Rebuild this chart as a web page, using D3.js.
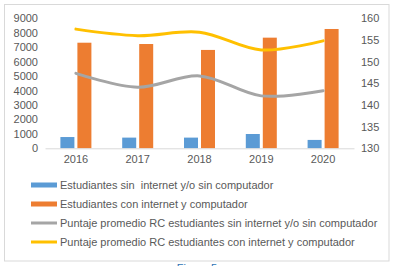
<!DOCTYPE html>
<html><head><meta charset="utf-8">
<script src="https://cdn.jsdelivr.net/npm/d3@7"></script>
<style>body{margin:0;background:#fff;}svg{display:block;}text{white-space:pre;}</style>
</head><body>
<svg id="c" width="396" height="266"></svg>
<script>
const years = ["2016","2017","2018","2019","2020"];
const sinInternet = [780, 740, 740, 990, 580];
const conInternet = [7310, 7220, 6810, 7660, 8260];
const puntajeSin = [147.3, 144.1, 146.7, 142.1, 143.3];
const puntajeCon = [157.5, 156.0, 156.8, 152.7, 154.8];
const leftTicks = [0,1000,2000,3000,4000,5000,6000,7000,8000,9000];
const rightTicks = [130,135,140,145,150,155,160];
const legendLabels = [
  "Estudiantes sin  internet y/o sin computador",
  "Estudiantes con internet y computador",
  "Puntaje promedio RC estudiantes sin internet y/o sin computador",
  "Puntaje promedio RC estudiantes con internet y computador"
];
const colors = ["#5B9BD5","#ED7D31","#A5A5A5","#FFC000"];

const svg = d3.select("#c");
const font = "'Liberation Sans', Arial, sans-serif";
svg.append("rect").attr("x",4.5).attr("y",4.5).attr("width",384.5).attr("height",256.5)
  .attr("fill","#fff").attr("stroke","#d9d9d9");

const x = d3.scaleBand().domain(years).range([45,354]);
const yL = d3.scaleLinear().domain([0,9000]).range([148.3,18.3]);
const yR = d3.scaleLinear().domain([130,160]).range([148.3,18.3]);

const gl = svg.append("g").attr("transform","translate(38,0)")
  .call(d3.axisLeft(yL).tickValues(leftTicks).tickFormat(d3.format("d")).tickSize(0).tickPadding(0));
gl.select(".domain").remove();
gl.selectAll("text").attr("font-family",font).attr("font-size",11).attr("fill","#595959");

const gr = svg.append("g").attr("transform","translate(361,0)")
  .call(d3.axisRight(yR).tickValues(rightTicks).tickFormat(d3.format("d")).tickSize(0).tickPadding(0));
gr.select(".domain").remove();
gr.selectAll("text").attr("font-family",font).attr("font-size",11).attr("fill","#595959");

const bw = 14, gap = 3;
svg.append("g").selectAll("rect").data(years).join("rect")
  .attr("x",d=>x(d)+x.bandwidth()/2-bw-gap/2)
  .attr("y",(d,i)=>yL(sinInternet[i]))
  .attr("width",bw).attr("height",(d,i)=>yL(0)-yL(sinInternet[i]))
  .attr("fill",colors[0]);
svg.append("g").selectAll("rect").data(years).join("rect")
  .attr("x",d=>x(d)+x.bandwidth()/2+gap/2)
  .attr("y",(d,i)=>yL(conInternet[i]))
  .attr("width",bw).attr("height",(d,i)=>yL(0)-yL(conInternet[i]))
  .attr("fill",colors[1]);

const gb = svg.append("g").attr("transform",`translate(0,${yL(0)})`)
  .call(d3.axisBottom(x).tickSize(0).tickPadding(7));
gb.select(".domain").attr("stroke","#d9d9d9");
gb.selectAll("text").attr("font-family",font).attr("font-size",11).attr("fill","#595959");

const line = d3.line().x((d,i)=>x(years[i])+x.bandwidth()/2).y(d=>yR(d)).curve(d3.curveCatmullRom.alpha(0.5));
svg.append("path").attr("d",line(puntajeSin)).attr("fill","none").attr("stroke",colors[2]).attr("stroke-width",3).attr("stroke-linecap","round");
svg.append("path").attr("d",line(puntajeCon)).attr("fill","none").attr("stroke",colors[3]).attr("stroke-width",3).attr("stroke-linecap","round");

const lg = svg.append("g");
legendLabels.forEach((t,i)=>{
  const yy = 185 + i*19;
  if(i<2){
    lg.append("rect").attr("x",31).attr("y",yy-2.5).attr("width",26).attr("height",5).attr("fill",colors[i]);
  } else {
    lg.append("line").attr("x1",31).attr("x2",57).attr("y1",yy).attr("y2",yy).attr("stroke",colors[i]).attr("stroke-width",3);
  }
  lg.append("text").attr("x",60).attr("y",yy+4).attr("font-family",font).attr("font-size",11)
    .attr("fill","#595959").text(t);
});

svg.append("text").attr("x",197).attr("y",272).attr("text-anchor","middle").attr("font-family",font)
  .attr("font-size",11).attr("fill","#2E74B5").text("Figura 5");
</script>
</body></html>
